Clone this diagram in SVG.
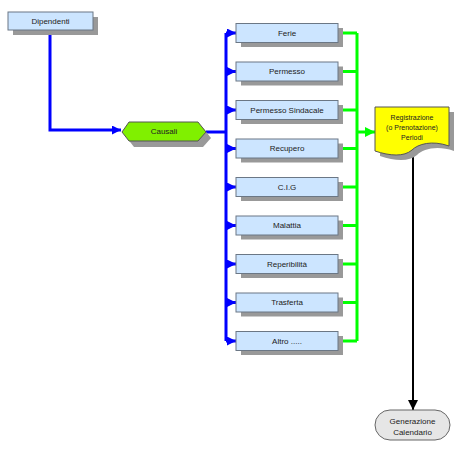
<svg xmlns="http://www.w3.org/2000/svg" width="475" height="458" viewBox="0 0 475 458">
<style>
text{font-family:"Liberation Sans",Arial,sans-serif;font-size:8px;fill:#222;text-anchor:middle;dominant-baseline:central}
.box{fill:#cce5ff;stroke:#6b7785;stroke-width:1}
.sh{fill:#999}
.blue{stroke:#0000ff;stroke-width:3;fill:none}
.green{stroke:#00ff00;stroke-width:3;fill:none}
</style>
<defs>
<marker id="ab" viewBox="0 0 10 10" refX="10" refY="5" markerWidth="3" markerHeight="3" orient="auto" markerUnits="strokeWidth"><path d="M0,0L10,5L0,10z" fill="#0000ff"/></marker>
<marker id="ag" viewBox="0 0 10 10" refX="10" refY="5" markerWidth="3.5" markerHeight="3.5" orient="auto" markerUnits="strokeWidth"><path d="M0,0L10,5L0,10z" fill="#00ff00"/></marker>
<marker id="ak" viewBox="0 0 10 10" refX="10" refY="5" markerWidth="5" markerHeight="5" orient="auto" markerUnits="strokeWidth"><path d="M0,0L10,5L0,10z" fill="#000"/></marker>
</defs>
<g id="connectors">
<path class="blue" d="M50,30V130H121" marker-end="url(#ab)"/>
<path class="blue" d="M206,132H226"/>
<path class="blue" d="M226,33V341"/>
<path class="blue" d="M226,33H236" marker-end="url(#ab)"/>
<path class="blue" d="M226,71.5H236" marker-end="url(#ab)"/>
<path class="blue" d="M226,110H236" marker-end="url(#ab)"/>
<path class="blue" d="M226,148.5H236" marker-end="url(#ab)"/>
<path class="blue" d="M226,187H236" marker-end="url(#ab)"/>
<path class="blue" d="M226,225.5H236" marker-end="url(#ab)"/>
<path class="blue" d="M226,264H236" marker-end="url(#ab)"/>
<path class="blue" d="M226,302.5H236" marker-end="url(#ab)"/>
<path class="blue" d="M226,341H236" marker-end="url(#ab)"/>
<path class="green" d="M338,33H357M338,71.5H357M338,110H357M338,148.5H357M338,187H357M338,225.5H357M338,264H357M338,302.5H357M338,341H357"/>
<path class="green" d="M357,33V341"/>
<path class="green" d="M357,132H375" marker-end="url(#ag)"/>
<path d="M413,152V410" stroke="#000" stroke-width="2" fill="none" marker-end="url(#ak)"/>
</g>
<g id="dipendenti"><rect class="sh" x="13" y="17" width="85" height="18"/><rect class="box" x="8" y="12" width="85" height="18"/><text x="50.5" y="21">Dipendenti</text></g>
<g id="causali"><polygon class="sh" points="127,138 134,128 203,128 211,138 203,147 134,147"/><polygon points="122,132 129,122 198,122 206,132 198,141 129,141" fill="#80f000" stroke="#555" stroke-width="1"/><text x="164" y="131.5">Causali</text></g>
<g id="ferie"><rect class="sh" x="241" y="28" width="102" height="19"/><rect class="box" x="236" y="23.5" width="102" height="19"/><text x="287" y="33">Ferie</text></g>
<g id="permesso"><rect class="sh" x="241" y="66.5" width="102" height="19"/><rect class="box" x="236" y="62" width="102" height="19"/><text x="287" y="71.5">Permesso</text></g>
<g id="permesso-sindacale"><rect class="sh" x="241" y="105" width="102" height="19"/><rect class="box" x="236" y="100.5" width="102" height="19"/><text x="287" y="110">Permesso Sindacale</text></g>
<g id="recupero"><rect class="sh" x="241" y="143.5" width="102" height="19"/><rect class="box" x="236" y="139" width="102" height="19"/><text x="287" y="148.5">Recupero</text></g>
<g id="cig"><rect class="sh" x="241" y="182" width="102" height="19"/><rect class="box" x="236" y="177.5" width="102" height="19"/><text x="287" y="187">C.I.G</text></g>
<g id="malattia"><rect class="sh" x="241" y="220.5" width="102" height="19"/><rect class="box" x="236" y="216" width="102" height="19"/><text x="287" y="225.5">Malattia</text></g>
<g id="reperibilita"><rect class="sh" x="241" y="259" width="102" height="19"/><rect class="box" x="236" y="254.5" width="102" height="19"/><text x="287" y="264">Reperibilità</text></g>
<g id="trasferta"><rect class="sh" x="241" y="297.5" width="102" height="19"/><rect class="box" x="236" y="293" width="102" height="19"/><text x="287" y="302.5">Trasferta</text></g>
<g id="altro"><rect class="sh" x="241" y="336" width="102" height="19"/><rect class="box" x="236" y="331.5" width="102" height="19"/><text x="287" y="341">Altro .....</text></g>
<g id="registrazione">
<path class="sh" d="M380,112H454V151C437,145 423,149 417,155C409,162 395,161 380,156Z"/>
<path d="M375,107H449V146C432,140 418,144 412,150C404,157 390,156 375,151Z" fill="#ffff00" stroke="#555" stroke-width="1"/>
<text x="412" y="117" style="font-size:7px">Registrazione</text>
<text x="412" y="127" style="font-size:7px">(o Prenotazione)</text>
<text x="412" y="137" style="font-size:7px">Periodi</text>
</g>
<g id="generazione"><rect x="375" y="410" width="75" height="30" rx="15" fill="#e6e6e6" stroke="#666" stroke-width="1"/><text x="412.5" y="421">Generazione</text><text x="412.5" y="432">Calendario</text></g>
</svg>
